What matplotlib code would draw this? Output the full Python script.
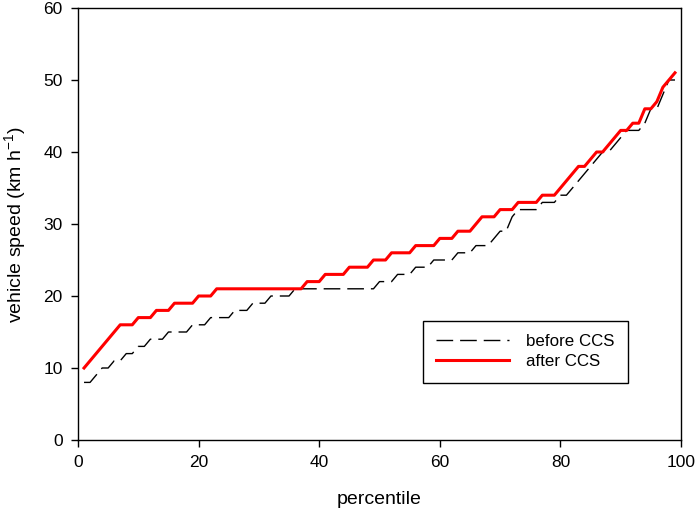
import matplotlib

matplotlib.use("Agg")
import matplotlib.pyplot as plt

plt.rcParams["font.family"] = ["Liberation Sans", "DejaVu Sans"]

# percentiles 1..99
percentile = list(range(1, 100))

before_ccs = [
    8, 8, 9, 10, 10, 11, 11, 12, 12, 13,
    13, 14, 14, 14, 15, 15, 15, 15, 16, 16,
    16, 17, 17, 17, 17, 18, 18, 18, 19, 19,
    19, 20, 20, 20, 20, 21, 21, 21, 21, 21,
    21, 21, 21, 21, 21, 21, 21, 21, 21, 22,
    22, 22, 23, 23, 23, 24, 24, 24, 25, 25,
    25, 25, 26, 26, 26, 27, 27, 27, 28, 29,
    29, 31, 32, 32, 32, 32, 33, 33, 33, 34,
    34, 35, 36, 37, 38, 39, 40, 40, 41, 42,
    43, 43, 43, 44, 46, 46, 48, 50, 50,
]

after_ccs = [
    10, 11, 12, 13, 14, 15, 16, 16, 16, 17,
    17, 17, 18, 18, 18, 19, 19, 19, 19, 20,
    20, 20, 21, 21, 21, 21, 21, 21, 21, 21,
    21, 21, 21, 21, 21, 21, 21, 22, 22, 22,
    23, 23, 23, 23, 24, 24, 24, 24, 25, 25,
    25, 26, 26, 26, 26, 27, 27, 27, 27, 28,
    28, 28, 29, 29, 29, 30, 31, 31, 31, 32,
    32, 32, 33, 33, 33, 33, 34, 34, 34, 35,
    36, 37, 38, 38, 39, 40, 40, 41, 42, 43,
    43, 44, 44, 46, 46, 47, 49, 50, 51,
]

fig = plt.figure(figsize=(6.97, 5.08), dpi=100)
ax = fig.add_axes([78 / 697, 68 / 508, 603 / 697, 432 / 508])

ax.plot(percentile, before_ccs, color="black", lw=1.0,
        dashes=(12, 5), label="before CCS")
ax.plot(percentile, after_ccs, color="#ff0000", lw=2.2, label="after CCS")

ax.set_xlim(0, 100)
ax.set_ylim(0, 60)
ax.set_xticks(range(0, 101, 20))
ax.set_yticks(range(0, 61, 10))
ax.tick_params(direction="out", length=5, width=1, labelsize=12.5, pad=6)
for s in ax.spines.values():
    s.set_linewidth(1.0)

ax.set_xlabel("percentile", fontsize=14, labelpad=15)
ax.set_ylabel("vehicle speed (km h$^{\\mathregular{-1}}$)", fontsize=14,
              labelpad=10)

leg = ax.legend(loc="lower left", bbox_to_anchor=(0.572, 0.132),
                borderaxespad=0, fontsize=12.2, handlelength=4.3,
                handletextpad=1.0, borderpad=0.8, labelspacing=0.3,
                fancybox=False, edgecolor="black", framealpha=1)
leg.get_frame().set_linewidth(1.0)

fig.savefig("out.png", dpi=100)
